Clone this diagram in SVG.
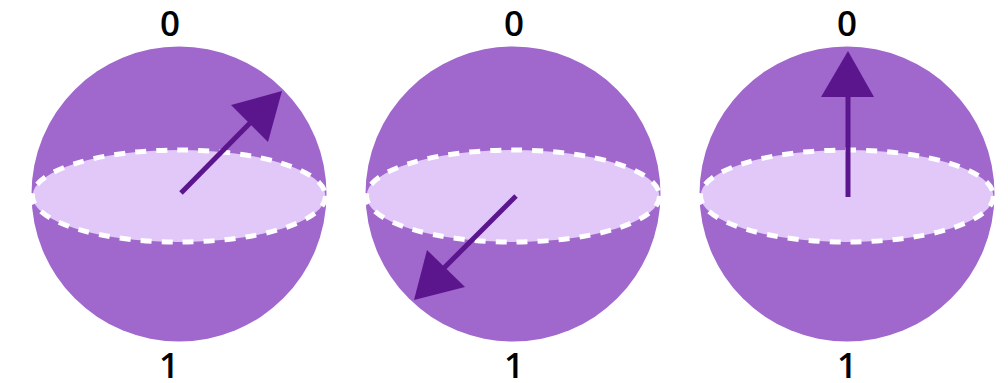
<svg xmlns="http://www.w3.org/2000/svg" width="1008" height="383" viewBox="0 0 1008 383">
<style>
.sphere{fill:#A067CC}
.eq{fill:#E1C8F8;stroke:#fff;stroke-width:5;stroke-dasharray:11 10}
.vec{stroke:#5B168E;stroke-width:5;fill:none}
.head{fill:#5B168E}
.lbl{font-family:"Open Sans","Noto Sans",sans-serif;font-weight:600;font-size:35px;fill:#000;text-anchor:middle}
</style>
<rect width="1008" height="383" fill="#fff"/>
<g id="sphere1">
<circle class="sphere" cx="179" cy="194" r="147.5"/>
<ellipse class="eq" cx="179" cy="196" rx="146.5" ry="46"/>
<text class="lbl" x="170" y="36">0</text>
<text class="lbl" x="169" y="378">1</text>
</g>
<g id="sphere2">
<circle class="sphere" cx="513" cy="194" r="147.5"/>
<ellipse class="eq" cx="513" cy="196" rx="146.5" ry="46"/>
<text class="lbl" x="514" y="36">0</text>
<text class="lbl" x="514" y="378">1</text>
</g>
<g id="sphere3">
<circle class="sphere" cx="847" cy="194" r="147.5"/>
<ellipse class="eq" cx="847" cy="196" rx="146.5" ry="46"/>
<text class="lbl" x="847" y="36">0</text>
<text class="lbl" x="847" y="378">1</text>
</g>
<g id="connectors">
<line class="vec" x1="181" y1="193" x2="252" y2="121"/>
<polygon class="head" points="282,91 231,105 268,142"/>
<line class="vec" x1="516" y1="196" x2="444" y2="268"/>
<polygon class="head" points="414,300 427,250 465,287"/>
<line class="vec" x1="848" y1="197" x2="848" y2="92"/>
<polygon class="head" points="848,51 821,97 874,97"/>
</g>
</svg>
